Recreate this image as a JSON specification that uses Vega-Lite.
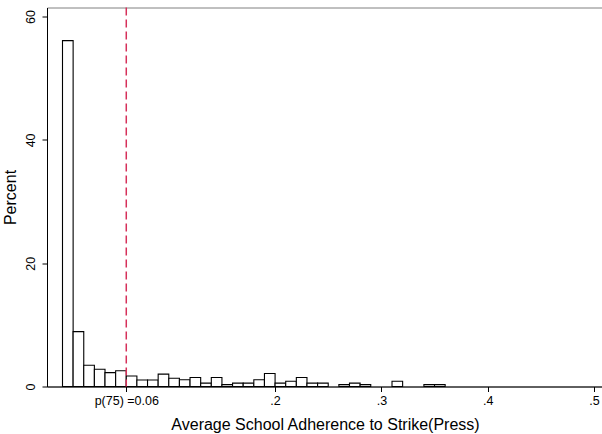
{
  "$schema": "https://vega.github.io/schema/vega-lite/v6.json",
  "autosize": {"type": "none"},
  "width": 556,
  "height": 379,
  "padding": {"left": 47, "top": 7.5, "right": 0, "bottom": 47.5},
  "background": "white",
  "config": {
    "view": {"stroke": "#808080", "strokeWidth": 1},
    "font": "Liberation Sans",
    "axis": {
      "domainColor": "black",
      "tickColor": "black",
      "labelColor": "black",
      "titleColor": "black",
      "labelFont": "Liberation Sans",
      "titleFont": "Liberation Sans",
      "titleFontWeight": "normal",
      "grid": false,
      "tickSize": 5
    }
  },
  "layer": [
    {
      "data": {
        "values": [
          {"bin_start": 0.00, "bin_end": 0.01, "pct": 56.1},
          {"bin_start": 0.01, "bin_end": 0.02, "pct": 8.9},
          {"bin_start": 0.02, "bin_end": 0.03, "pct": 3.45},
          {"bin_start": 0.03, "bin_end": 0.04, "pct": 2.8},
          {"bin_start": 0.04, "bin_end": 0.05, "pct": 2.25},
          {"bin_start": 0.05, "bin_end": 0.06, "pct": 2.55},
          {"bin_start": 0.06, "bin_end": 0.07, "pct": 1.7},
          {"bin_start": 0.07, "bin_end": 0.08, "pct": 1.05},
          {"bin_start": 0.08, "bin_end": 0.09, "pct": 1.05},
          {"bin_start": 0.09, "bin_end": 0.10, "pct": 2.0},
          {"bin_start": 0.10, "bin_end": 0.11, "pct": 1.35},
          {"bin_start": 0.11, "bin_end": 0.12, "pct": 1.1},
          {"bin_start": 0.12, "bin_end": 0.13, "pct": 1.45},
          {"bin_start": 0.13, "bin_end": 0.14, "pct": 0.55},
          {"bin_start": 0.14, "bin_end": 0.15, "pct": 1.45},
          {"bin_start": 0.15, "bin_end": 0.16, "pct": 0.3},
          {"bin_start": 0.16, "bin_end": 0.17, "pct": 0.55},
          {"bin_start": 0.17, "bin_end": 0.18, "pct": 0.55},
          {"bin_start": 0.18, "bin_end": 0.19, "pct": 1.1},
          {"bin_start": 0.19, "bin_end": 0.20, "pct": 2.1},
          {"bin_start": 0.20, "bin_end": 0.21, "pct": 0.55},
          {"bin_start": 0.21, "bin_end": 0.22, "pct": 0.85},
          {"bin_start": 0.22, "bin_end": 0.23, "pct": 1.45},
          {"bin_start": 0.23, "bin_end": 0.24, "pct": 0.55},
          {"bin_start": 0.24, "bin_end": 0.25, "pct": 0.55},
          {"bin_start": 0.26, "bin_end": 0.27, "pct": 0.3},
          {"bin_start": 0.27, "bin_end": 0.28, "pct": 0.55},
          {"bin_start": 0.28, "bin_end": 0.29, "pct": 0.3},
          {"bin_start": 0.31, "bin_end": 0.32, "pct": 0.85},
          {"bin_start": 0.34, "bin_end": 0.35, "pct": 0.3},
          {"bin_start": 0.35, "bin_end": 0.36, "pct": 0.3}
        ]
      },
      "mark": {"type": "bar", "fill": "white", "stroke": "black", "strokeWidth": 1.1},
      "encoding": {
        "x": {
          "field": "bin_start",
          "type": "quantitative",
          "scale": {"domain": [-0.01458, 0.5085], "nice": false, "zero": false},
          "axis": {
            "title": "Average School Adherence to Strike(Press)",
            "titleFontSize": 16,
            "titlePadding": 9,
            "labelFontSize": 12.5,
            "labelPadding": 3,
            "values": [0.06, 0.2, 0.3, 0.4, 0.5],
            "labelExpr": "datum.value == 0.06 ? 'p(75) =0.06' : slice(format(datum.value, '.1f'), 1)"
          }
        },
        "x2": {"field": "bin_end"},
        "y": {
          "field": "pct",
          "type": "quantitative",
          "scale": {"domain": [0, 61.48], "nice": false},
          "axis": {
            "title": "Percent",
            "titleFontSize": 16,
            "titlePadding": 6,
            "labelFontSize": 12.5,
            "labelAngle": 270,
            "labelPadding": 5,
            "values": [0, 20, 40, 60]
          }
        },
        "y2": {"datum": 0}
      }
    },
    {
      "data": {"values": [{"p75": 0.06}]},
      "mark": {"type": "rule", "color": "#d6305a", "strokeWidth": 1.5, "strokeDash": [8, 4]},
      "encoding": {
        "x": {"field": "p75", "type": "quantitative"}
      }
    }
  ]
}
